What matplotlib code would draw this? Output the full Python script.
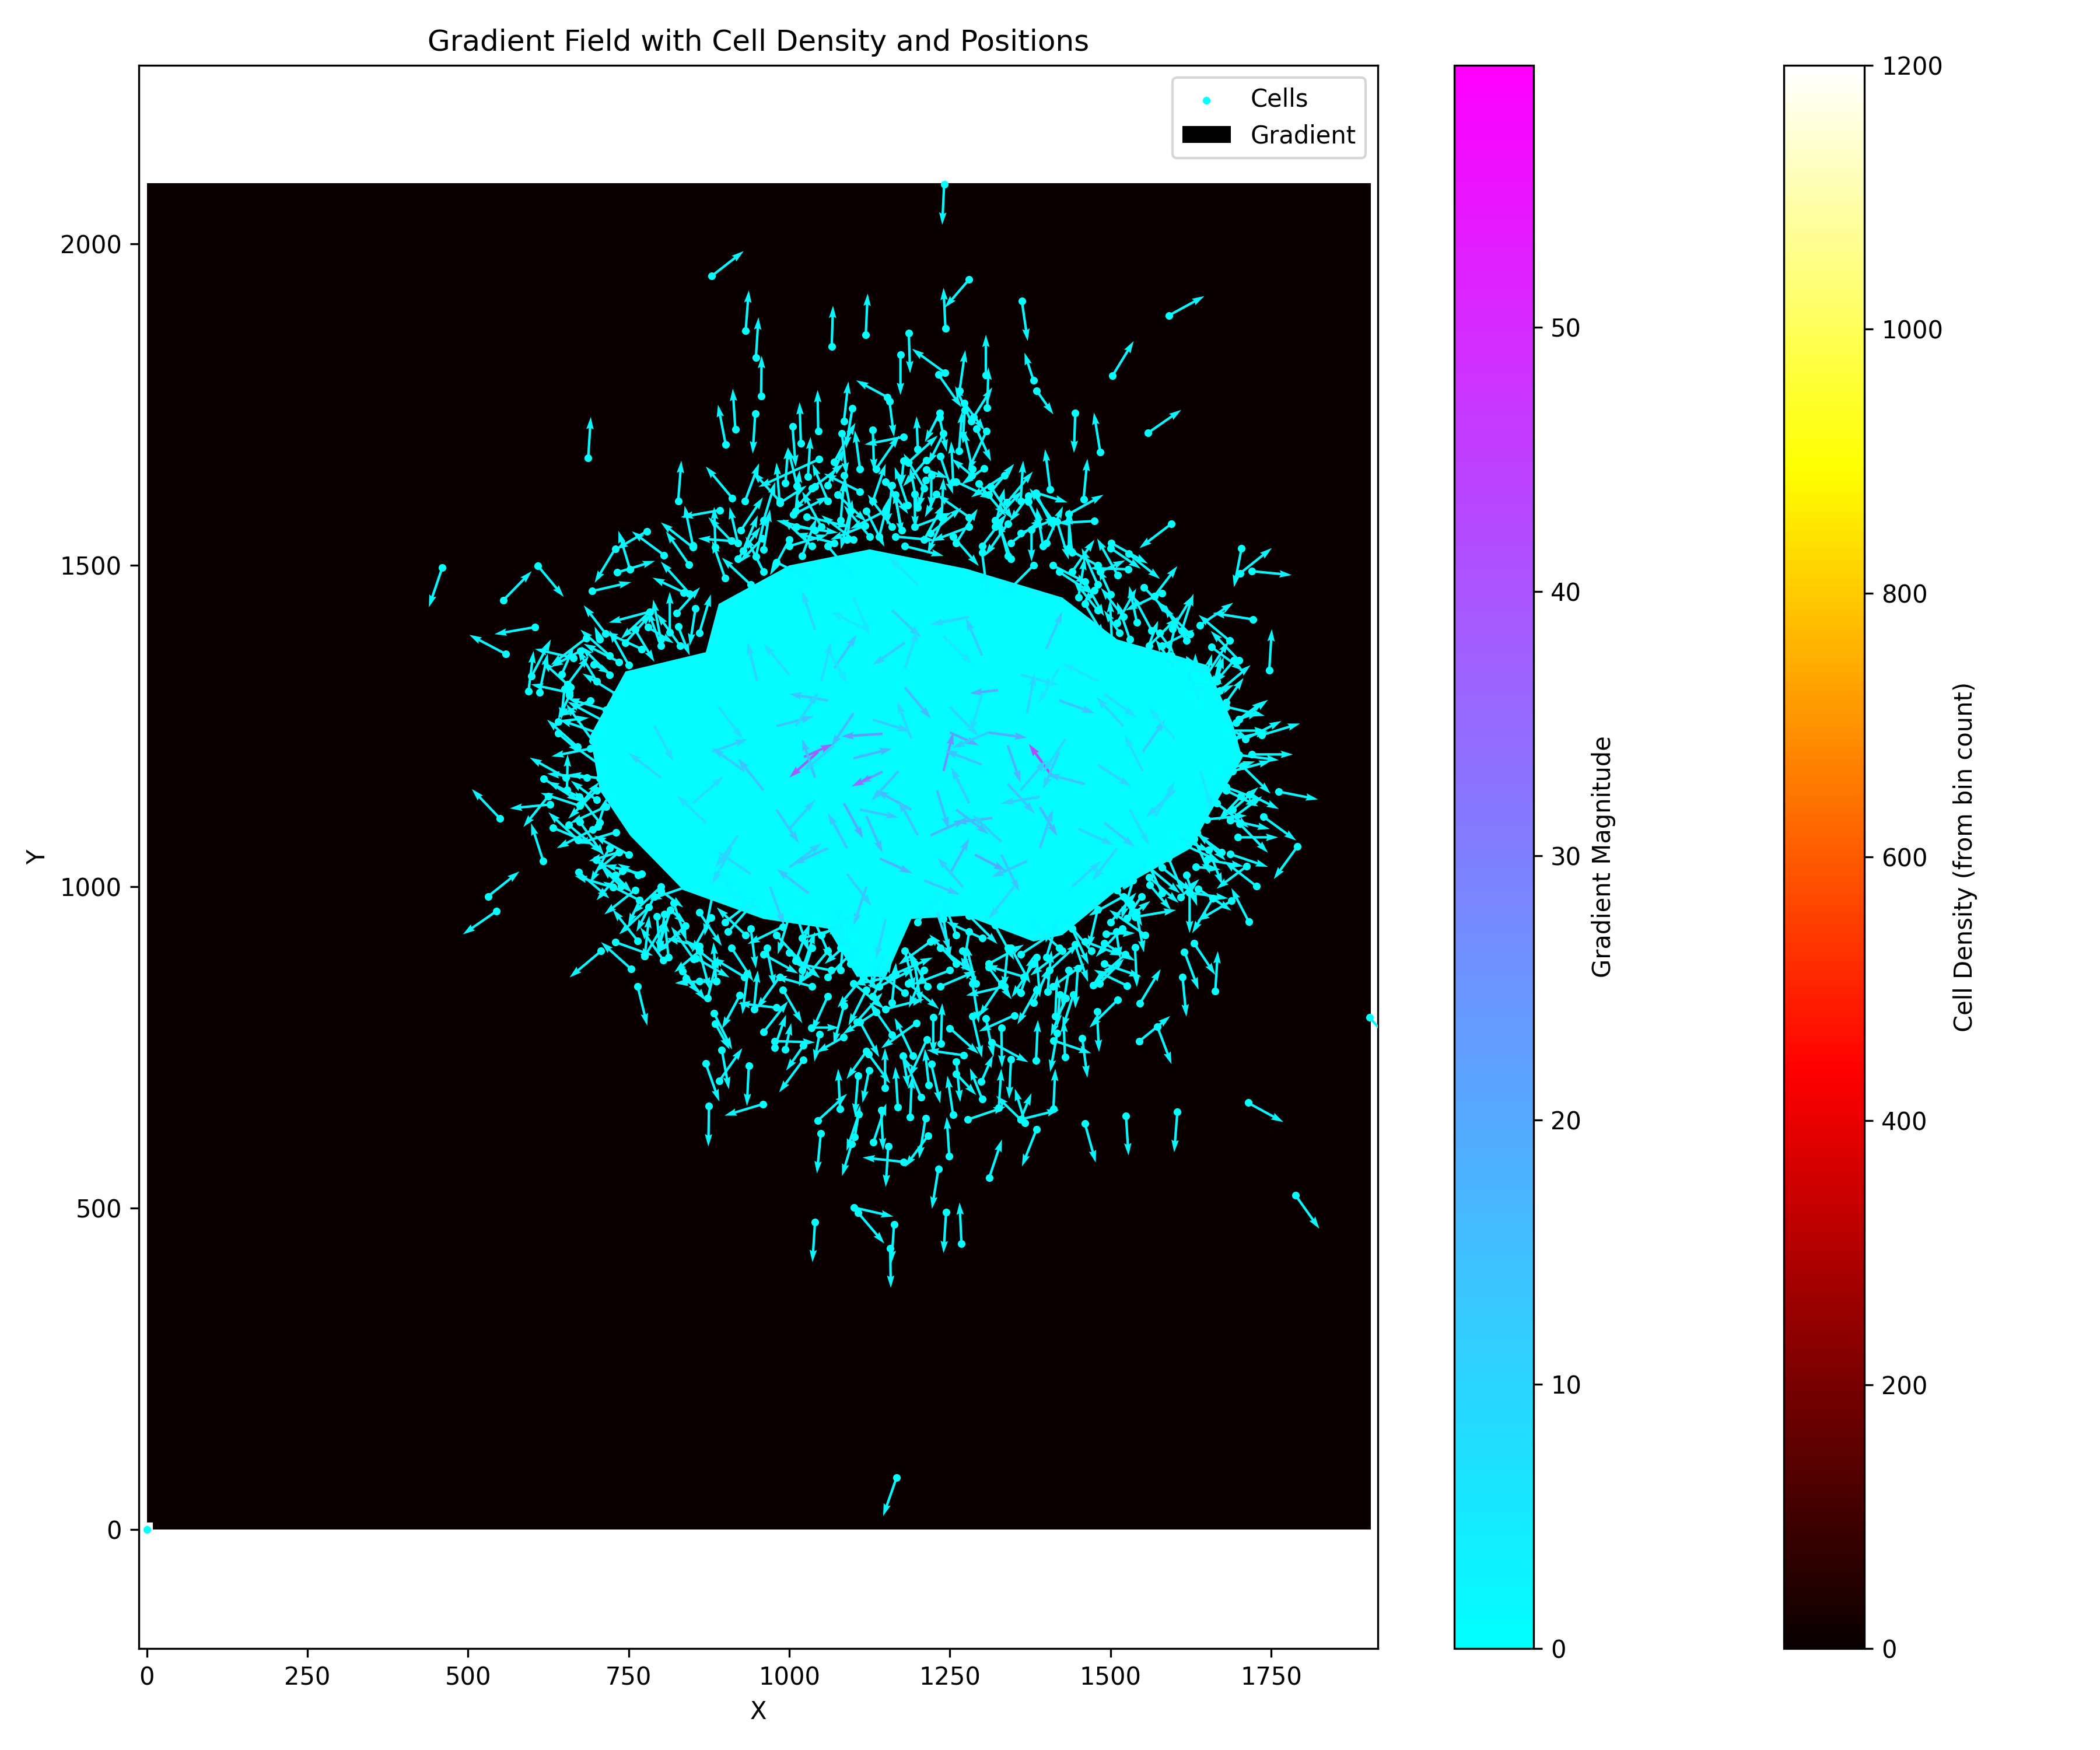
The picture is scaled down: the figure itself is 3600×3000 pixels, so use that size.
#!/usr/bin/env python3
"""Gradient field over a 2D cell density map.

Every arrow below was read off the picture by eye. The middle of the cloud is
too dense to read arrow by arrow, so it is an estimated outline (core_x/core_y)
with a hand-estimated fringe (rim_*) and inner arrows (inner_*) on top.
"""
import matplotlib
matplotlib.use("Agg")
import matplotlib.pyplot as plt
import numpy as np

# --- top of the cloud ---
top_x = [879, 932, 948, 1066, 1119, 1186, 1173, 956, 947, 916,
         901, 687, 1005, 1018, 1045, 1085, 1098, 1152, 1156, 1130,
         1178, 1082, 1070, 1046, 827, 911, 931, 892, 850, 885,
         850, 805, 778, 729, 752, 732, 844, 460, 609, 555,
         910, 910, 920, 925, 928, 948, 958, 985, 985, 994,
         1012, 1029, 1040, 1006, 1027, 1011, 1118, 1241, 1280, 1243,
         1362, 1591, 1503, 1380, 1385, 1445, 1484, 1558, 1406, 1458,
         1339, 1384, 1372, 1372, 1417, 1475, 1435, 1377, 1313, 1295,
         1284, 1255, 1303, 1264, 1308, 1306, 1265, 1232, 1242, 1272,
         1287, 1291, 1307, 1283, 1273, 1234, 1234, 1240, 1200, 1213,
         1213, 1178, 1184, 1195, 1229, 1212, 1237, 1221, 1050, 1075,
         1095, 1130, 1150, 1165, 1195, 1090, 1125, 1175, 1255, 1280,
         1320, 1345, 1070, 1210, 1150, 1110, 1060, 1165, 1340, 1395,
         1000, 960, 1035, 1440, 1480, 1410, 1345, 1300]
top_y = [1950, 1865, 1823, 1841, 1859, 1861, 1828, 1763, 1736, 1712,
         1688, 1667, 1716, 1690, 1709, 1724, 1744, 1762, 1755, 1711,
         1700, 1705, 1661, 1665, 1600, 1605, 1600, 1586, 1531, 1528,
         1528, 1516, 1553, 1526, 1494, 1489, 1501, 1497, 1499, 1446,
         1538, 1538, 1535, 1555, 1523, 1514, 1542, 1597, 1597, 1628,
         1624, 1638, 1623, 1579, 1576, 1560, 1562, 2093, 1945, 1869,
         1911, 1889, 1795, 1788, 1772, 1737, 1676, 1706, 1618, 1603,
         1598, 1613, 1608, 1599, 1568, 1569, 1527, 1556, 1623, 1627,
         1640, 1630, 1651, 1678, 1745, 1796, 1772, 1797, 1800, 1753,
         1731, 1713, 1709, 1724, 1742, 1737, 1730, 1705, 1681, 1649,
         1664, 1663, 1594, 1611, 1611, 1633, 1575, 1640, 1560, 1610,
         1585, 1600, 1585, 1610, 1560, 1540, 1545, 1555, 1545, 1575,
         1560, 1535, 1535, 1540, 1630, 1650, 1625, 1545, 1565, 1530,
         1530, 1490, 1530, 1490, 1470, 1500, 1510, 1530]
top_u = [50, 5, 4, 2, 3, 2, 0, 1, -4, -4,
         -12, 4, 5, -2, -1, 7, -10, -48, 7, 2,
         -61, 7, 33, -94, 5, -41, 22, -61, -13, -2,
         -50, -50, -48, -32, -18, 59, -36, -21, 40, 44,
         -52, -36, -13, 34, 23, 15, -35, -5, 42, 4,
         -14, 4, -34, 55, 67, 65, -54, -3, -38, -3,
         9, 55, 33, -14, 26, -2, -10, 52, -8, 6,
         40, 49, -29, 22, 18, -58, 1, 0, 35, 42,
         -31, -3, -35, 5, 2, 0, 9, 36, -51, 32,
         29, 23, -29, -25, -3, -23, 11, -24, -2, 34,
         -36, -4, -20, 1, -18, -11, 3, 0, -30, 45,
         -15, 20, -55, 10, 58, 8, -40, -12, 40, -50,
         15, 50, -60, 30, 35, -8, 25, 62, -35, -10,
         60, -28, -45, 35, -25, 55, -20, 38]
top_v = [39, 63, 63, 63, 64, -62, -63, 63, -62, 63,
         62, 64, -63, 64, 64, 62, -62, 26, -55, -64,
         -12, -64, 61, -43, 63, 49, 59, -11, 62, 63,
         39, 37, -28, -53, 60, 18, 52, -62, -48, 45,
         4, 37, 56, 51, 55, 66, -37, 63, 27, 56,
         59, 62, -39, 28, -16, -9, -22, -63, -44, 63,
         -62, 30, 54, 43, -37, -62, 62, 36, 63, 63,
         48, -15, -40, -43, -59, -3, 61, -50, -52, -50,
         26, 63, -25, 62, 63, 63, 63, -51, 37, -43,
         46, -51, -62, 55, -52, -45, -53, -48, 51, -13,
         -41, -40, 59, -53, -36, -45, 61, -52, 55, -42,
         -60, 58, -28, -62, 22, 62, 48, 60, -46, 35,
         60, 38, 15, 55, -50, 60, 56, -6, -50, 60,
         18, 55, 42, 50, 57, -28, 58, 50]

# --- left side ---
left_x = [693, 836, 845, 825, 814, 783, 783, 780, 827, 854,
          714, 705, 604, 559, 684, 675, 664, 599, 594, 611,
          658, 655, 646, 659, 650, 658, 696, 640, 654, 652,
          705, 618, 673, 674, 628, 625, 674, 550, 670, 709,
          694, 640, 617, 531, 544, 632, 657, 674, 694, 671,
          702, 672, 726, 729, 738, 767, 767, 781, 764, 729,
          707, 754, 764, 775, 775, 804, 812, 794, 806, 815,
          838, 851, 860, 860, 860, 839, 800, 815, 735, 735,
          699, 765, 700, 690, 700, 720, 745, 800, 760, 735]
left_y = [1460, 1458, 1456, 1426, 1396, 1428, 1428, 1404, 1405, 1433,
          1394, 1385, 1404, 1362, 1387, 1367, 1356, 1328, 1304, 1302,
          1302, 1315, 1331, 1311, 1308, 1298, 1346, 1239, 1151, 1170,
          1169, 1168, 1140, 1126, 1128, 1141, 1127, 1106, 1218, 1259,
          1227, 1257, 1040, 985, 962, 1092, 1096, 1101, 1089, 1073,
          1094, 1023, 999, 1018, 1001, 979, 979, 968, 916, 914,
          900, 872, 845, 892, 892, 886, 890, 954, 958, 964,
          939, 888, 908, 900, 853, 858, 994, 964, 1054, 1054,
          1042, 1018, 1135, 1290, 1320, 1360, 1380, 1375, 1400, 1350]
left_u = [61, -49, -45, 36, 0, -64, -45, 40, 18, -9,
          -34, -8, -63, -57, -55, -46, -60, 30, 8, 13,
          -60, 33, 18, -44, -5, -18, 26, 35, 1, -56,
          -48, 55, -50, -61, -63, -39, 30, -44, -47, -54,
          -41, 48, -19, 49, -52, 62, 52, 38, -56, -46,
          14, 48, -60, 26, -30, -57, -18, -46, -39, 59,
          -49, -47, 15, 7, 34, -36, -6, 5, -9, -21,
          -44, -35, -51, -39, -38, 21, 35, 24, -47, -36,
          56, -32, -40, -50, -30, -45, 40, -20, 30, -55]
left_v = [14, 23, 50, 40, 63, -17, -42, -25, -45, -58,
          44, 20, -11, 30, -42, -25, 14, 57, 63, 61,
          13, 44, 41, 40, -48, -38, -14, -30, 55, 31,
          6, -35, 24, 20, -6, -48, 36, 46, 42, 29,
          57, 6, 59, 39, -36, -26, -44, -53, -29, 43,
          45, -41, 18, -27, 29, 29, -39, -42, 49, -21,
          -41, 42, -61, 63, 57, 51, 58, -57, -60, -66,
          -42, 50, 12, -33, -3, -24, -26, -21, -14, -30,
          -51, 18, 30, -25, 50, 40, 45, 55, -50, 28]

# --- bottom of the cloud ---
bottom_x = [834, 855, 886, 886, 873, 923, 883, 895, 885, 891,
            870, 937, 959, 875, 1022, 980, 945, 960, 977, 994,
            1022, 1034, 1047, 977, 1084, 1107, 1079, 1044, 1049, 1108,
            1097, 1102, 1131, 1143, 1154, 1178, 1169, 1149, 1188, 1205,
            1212, 1216, 1217, 1101, 1107, 1163, 1157, 1040, 1124, 1120,
            1123, 1167, 1268, 1244, 1232, 1311, 1249, 1385, 1360, 1360,
            1360, 1367, 1278, 1255, 1411, 1460, 1524, 1604, 1714, 1788,
            1903, 1300, 1299, 1260, 1260, 1221, 1192, 1177, 1214, 1271,
            1236, 1224, 1198, 1285, 1306, 1330, 1345, 1326, 1315, 1384,
            1429, 1411, 1417, 1456, 1479, 1511, 878, 905, 932, 965,
            990, 1000, 1020, 1035, 1050, 1065, 1080, 1095, 1115, 1130,
            1150, 1165, 1180, 1195, 1215, 1235, 1250, 1270, 1290, 1310,
            1330, 1345, 1365, 1385, 1405, 1425, 1445, 1470, 1490, 1402,
            1430, 1442, 1414, 1421, 1449, 930, 990, 1060, 1105, 1160,
            1250, 1350, 1380, 1280, 1100, 1010, 1150]
bottom_y = [869, 889, 853, 853, 827, 831, 803, 746, 787, 698,
            725, 722, 662, 659, 731, 812, 810, 774, 750, 747,
            753, 781, 771, 760, 766, 706, 654, 636, 616, 646,
            600, 611, 603, 653, 596, 572, 657, 687, 642, 673,
            640, 613, 692, 501, 493, 475, 438, 478, 714, 744,
            740, 81, 445, 494, 561, 547, 581, 623, 638, 638,
            638, 633, 638, 645, 654, 632, 644, 650, 664, 520,
            797, 670, 697, 709, 728, 724, 737, 737, 762, 738,
            756, 797, 788, 799, 795, 781, 732, 656, 758, 730,
            735, 761, 772, 764, 806, 824, 952, 930, 925, 905,
            938, 898, 870, 905, 925, 870, 905, 880, 860, 830,
            900, 865, 835, 880, 845, 905, 870, 900, 850, 880,
            850, 905, 860, 890, 870, 900, 910, 900, 880, 837,
            827, 832, 799, 832, 873, 860, 840, 830, 790, 770,
            780, 800, 820, 930, 920, 960, 810]
bottom_u = [36, 52, -62, -4, 16, -28, 28, 11, 22, 36,
            21, -3, -60, -1, -38, -60, 6, 38, 18, 9,
            -27, 44, -8, 63, -42, -5, -3, 46, -6, -19,
            -15, 8, 20, 3, -4, -64, -4, 0, 3, -27,
            -10, -36, -6, 61, 41, -4, 1, -4, -10, -31,
            34, -21, -3, -4, -10, 20, -4, -23, -38, 17,
            60, -16, 59, -9, 3, 17, 4, -5, 55, 37,
            40, -19, 18, 31, 6, 14, -28, 8, -27, -57,
            2, 0, -55, 15, 12, 1, -3, 4, 57, 3,
            -2, 59, -11, 8, 3, -44, -30, 40, -45, 12,
            -55, 48, 20, -20, 55, -60, 0, 45, -40, 30,
            -25, 58, -50, 10, -30, 50, -58, 22, -15, 55,
            -35, 30, -60, 5, 45, -50, 20, -40, 58, 6,
            -23, -17, 3, -4, -4, -50, 30, -25, 40, -35,
            45, -55, 25, -10, -45, 20, 60]
bottom_v = [-46, -30, -2, 61, 65, -52, -56, -61, -40, 51,
            -59, -63, -18, -63, -51, 7, 60, 48, 51, 41,
            -39, 0, -43, -2, -24, -62, 63, 42, -62, -57,
            -50, 49, 60, -63, -63, 7, 63, 62, 63, 63,
            -63, -49, 56, -14, -48, -60, -62, -62, -50, -43,
            -46, -60, 64, -64, -62, 60, 61, -58, 37, 41,
            15, 53, 20, 61, 63, -61, -62, -63, -30, -52,
            -45, 48, 41, -33, -63, -61, 59, -49, -58, 8,
            63, -57, -39, -65, -60, -62, -62, 61, -31, 63,
            58, -20, -60, -61, -63, -43, -54, 46, 43, -60,
            -27, -40, 60, -60, 30, 12, 63, -42, -48, 55,
            -58, 25, 37, -62, 55, -38, -22, -58, 60, 30,
            -52, -55, 18, -62, 42, -38, -58, 48, -20, 64,
            -59, -53, 63, -50, -62, 30, -52, -55, 45, 50,
            -40, -25, 55, -60, -40, -60, 15]

# --- right side ---
right_x = [1545, 1573, 1546, 1612, 1615, 1630, 1663, 1538, 1526, 1483,
           1473, 1523, 1554, 1762, 1705, 1716, 1703, 1686, 1686, 1701,
           1698, 1738, 1791, 1686, 1653, 1673, 1727, 1712, 1650, 1633,
           1715, 1688, 1659, 1623, 1636, 1623, 1609, 1618, 1561, 1548,
           1538, 1526, 1532, 1490, 1509, 1518, 1493, 1704, 1702, 1720,
           1722, 1639, 1685, 1700, 1657, 1747, 1692, 1647, 1662, 1665,
           1735, 1720, 1680, 1700, 1700, 1673, 1683, 1692, 1665, 1595,
           1501, 1500, 1528, 1527, 1511, 1500, 1484, 1552, 1580, 1568,
           1624, 1611, 1596, 1618, 1541, 1564, 1556, 1576, 1502, 1514,
           1595, 1632, 1475, 1625, 1640, 1600, 1580, 1460, 1520, 1670,
           1680, 1690, 1600, 1630, 1560, 1580]
right_y = [760, 782, 819, 860, 899, 912, 838, 906, 846, 850,
           847, 895, 925, 1148, 1188, 1144, 1141, 1104, 1104, 1098,
           1077, 1109, 1063, 1051, 1057, 1054, 1001, 1032, 1042, 1031,
           946, 978, 982, 991, 997, 991, 984, 1018, 1003, 985,
           953, 951, 974, 912, 930, 935, 927, 1527, 1488, 1491,
           1416, 1407, 1383, 1352, 1373, 1337, 1352, 1321, 1320, 1320,
           1236, 1206, 1287, 1261, 1261, 1251, 1243, 1230, 1302, 1565,
           1535, 1527, 1518, 1494, 1485, 1455, 1490, 1466, 1457, 1452,
           1393, 1399, 1401, 1383, 1411, 1399, 1366, 1395, 1384, 1395,
           1360, 1330, 1461, 1300, 1285, 1340, 1375, 1440, 1420, 1180,
           1150, 1120, 1080, 1075, 1040, 1030]
right_u = [48, 22, 32, 6, 22, 33, 4, 3, -52, 38,
           34, -50, -56, 61, 44, 46, -35, 50, 62, 44,
           63, 51, -37, 59, 21, -38, -50, -47, 57, 38,
           -27, -53, -32, 0, 52, 60, 29, 17, 33, -22,
           64, 36, 17, 48, 6, -41, 45, -12, 49, 62,
           -63, 52, -48, -44, 50, 4, -30, 11, 10, 11,
           60, 64, 27, 39, 32, 42, 60, 53, 27, -50,
           57, 47, 49, -59, -32, -19, 39, 44, -57, 36,
           -53, 18, 32, -35, -12, -29, 18, 23, -3, -24,
           39, 0, -18, 45, -20, -30, 50, 30, -35, 55,
           50, 40, 55, 25, -40, 48]
right_v = [39, -58, 53, -62, -59, -49, 62, -62, 25, 38,
           33, -45, 39, -12, -43, -23, -38, 37, -14, -45,
           0, -37, -51, -20, -54, 28, 39, -35, -10, -4,
           52, -31, -54, -63, -34, -9, 28, -48, -39, -32,
           11, 27, -35, -27, -42, -44, 1, -61, 39, -6,
           10, 35, 40, 46, -37, 64, -35, 41, 39, 38,
           18, 0, 38, 28, 11, -21, 0, 12, 12, -38,
           -32, -32, -39, 2, 57, 41, 18, -46, -27, 47,
           52, 57, 52, 54, 57, 54, 48, -32, 62, 35,
           -12, 33, -20, 30, 55, 45, 25, -50, 45, 15,
           -25, 35, -25, -55, -45, -38]

# --- spiky fringe hugging the dense core, positions and directions estimated ---
rim_x = [900, 920, 940, 960, 980, 1000, 1020, 1040, 1060, 1080,
         1100, 1120, 1140, 1160, 1180, 1200, 1220, 1240, 1260, 1280,
         1300, 1320, 1340, 1360, 1380, 1400, 1420, 1440, 1460, 1480,
         960, 985, 1010, 1035, 1060, 1085, 1110, 1135, 1160, 1185,
         1210, 1235, 1260, 1285, 1310, 1335, 1360, 1385, 1410, 1435,
         800, 820, 840, 860, 880, 900, 920, 940, 960, 980,
         1000, 1020, 1040, 1060, 1080, 1100, 1120, 1140, 1160, 1180,
         1200, 1220, 1240, 1260, 1280, 1300, 1320, 1340, 1360, 1380,
         1400, 1420, 1440, 1460, 1480, 1500, 1520, 1540, 1560, 1580,
         860, 885, 910, 935, 960, 985, 1010, 1035, 1060, 1085,
         1110, 1135, 1160, 1185, 1210, 1235, 1260, 1285, 1310, 1335,
         1360, 1385, 1410, 1435, 700, 690, 705, 685, 700, 715,
         705, 730, 720, 750, 740, 770, 760, 790, 715, 730,
         720, 750, 770, 800, 830, 860, 1690, 1700, 1710, 1695,
         1680, 1670, 1650, 1620, 1590, 1560, 1530, 1510, 1480, 1450,
         1680, 1665, 1650, 1635, 1615, 1590, 1560, 1535, 1510, 1480]
rim_y = [1480, 1510, 1470, 1525, 1505, 1540, 1515, 1555, 1530, 1570,
         1540, 1585, 1545, 1560, 1530, 1590, 1550, 1575, 1535, 1560,
         1520, 1570, 1515, 1550, 1500, 1535, 1490, 1520, 1475, 1500,
         1570, 1600, 1585, 1620, 1600, 1640, 1615, 1650, 1625, 1660,
         1620, 1670, 1630, 1650, 1610, 1640, 1600, 1610, 1570, 1580,
         1000, 975, 1000, 960, 985, 945, 975, 935, 960, 925,
         955, 920, 945, 900, 870, 850, 840, 845, 860, 900,
         945, 915, 950, 925, 955, 920, 940, 905, 895, 880,
         890, 905, 935, 915, 965, 945, 985, 960, 1015, 990,
         900, 880, 905, 865, 895, 860, 885, 845, 860, 815,
         790, 805, 820, 850, 870, 845, 880, 850, 875, 845,
         835, 840, 845, 870, 1240, 1215, 1190, 1170, 1150, 1125,
         1100, 1085, 1060, 1050, 1025, 1020, 995, 985, 1275, 1300,
         1330, 1345, 1370, 1385, 1375, 1395, 1180, 1205, 1230, 1255,
         1280, 1305, 1330, 1345, 1360, 1375, 1385, 1410, 1430, 1450,
         1155, 1130, 1105, 1085, 1065, 1045, 1030, 1010, 995, 985]
rim_u = [-20, 35, -45, 10, 55, -30, 22, -60, 40, 5,
         -50, 28, 15, -38, 60, -12, 48, -25, 33, -58,
         8, 42, -16, 58, -44, 26, 52, -6, 30, -55,
         18, -42, 6, 50, -24, 12, -56, 36, -8, 46,
         -32, 20, 56, -14, 40, -52, 4, 28, -36, 54,
         -45, 20, -58, 35, -12, 50, -30, 8, -52, 42,
         -18, 60, 25, -40, 5, 48, -28, 55, -60, 15,
         38, -50, 10, -22, 44, -56, 30, -6, 52, -34,
         18, -46, 26, 58, -14, 40, -54, 12, 46, -26,
         16, -48, 34, -8, 54, -36, 22, -58, 44, -16,
         30, -52, 6, 48, -24, 56, -42, 10, 36, -60,
         20, -30, 50, -10, -58, -60, -50, -62, -44, -56,
         -38, -60, -30, -54, -40, -58, -48, -28, -60, -52,
         -44, -30, -56, -12, -36, 18, 60, 62, 56, 50,
         60, 48, 34, 54, 14, 44, -20, 30, -38, 10,
         58, 50, 62, 44, 56, 24, 48, -18, 36, 54]
rim_v = [58, 50, 42, 62, -28, -55, 58, 15, -48, 63,
         38, -56, 60, 50, -15, 62, 40, -57, 53, -22,
         -62, 46, 60, 24, -44, 57, -34, 62, -54, 30,
         60, 46, 63, 38, 58, -61, 28, 52, -62, 42,
         54, -59, -26, 61, 48, -34, 63, -56, 50, 30,
         -42, -59, -20, -52, -61, 38, 55, -62, 34, -46,
         -60, 16, -57, -48, 62, -40, -56, 28, -12, -60,
         50, -36, -62, 58, -44, 26, -54, -63, 34, -52,
         60, 42, -56, -22, -60, 46, -30, -62, -40, 56,
         -60, 38, -52, -63, -30, -50, 58, 16, 44, -60,
         -55, -34, 62, -40, -58, 24, 46, -62, -50, -14,
         58, -54, 36, -62, 20, -12, 36, 6, -44, -26,
         48, -18, -54, 30, -46, 14, -38, -55, 18, 32,
         44, 54, 26, 62, 50, 60, 16, -8, 28, 36,
         -14, 40, 52, -30, 61, 44, 58, 54, 48, 62,
         -22, -38, 6, -44, -26, -57, -40, -60, -50, 24]

# --- arrows still visible inside the dense core ---
inner_x = [1145, 1325, 1316, 1289, 1141, 1390, 1145, 1023, 1127, 1045,
           1409, 1250, 1190, 1085, 960, 880, 800, 1340, 1460, 1550,
           1600, 1250, 1120, 1000, 920, 1060, 1180, 1300, 1420, 1520,
           1490, 1370, 1240, 1100, 980, 870, 790, 1040, 1160, 1280,
           1400, 1350, 1220, 1090, 1230, 1440, 1180, 1070, 950, 1310,
           1000, 1060, 1120, 1200, 1260, 1330, 1390, 1450, 1510, 1570,
           930, 980, 1040, 1100, 1170, 1230, 1300, 1360, 1420, 1480,
           850, 910, 970, 1030, 1090, 1150, 1210, 1270, 1330, 1390,
           1010, 1070, 1130, 1190, 1250, 1310, 1370, 1430, 1490, 1550,
           1000, 1060, 1120, 1180, 1240, 1300, 1360, 1420, 1100, 1200,
           890, 940, 1050, 1110, 1280, 1340, 1480, 1530, 1600, 1640]
inner_y = [1238, 1306, 1107, 1050, 1044, 1124, 1179, 1202, 1171, 1210,
           1172, 1240, 1120, 1130, 1150, 1210, 1170, 1220, 1160, 1210,
           1150, 1020, 1000, 1030, 1080, 1290, 1310, 1360, 1290, 1250,
           1100, 1040, 1180, 1270, 1250, 1100, 1250, 1400, 1430, 1420,
           1370, 1000, 1080, 1060, 960, 1000, 1380, 1340, 1320, 1240,
           1090, 1060, 1110, 1080, 1120, 1070, 1060, 1090, 1060, 1110,
           1180, 1120, 1170, 1200, 1180, 1150, 1190, 1150, 1210, 1190,
           1130, 1060, 1000, 990, 1020, 950, 1010, 1000, 1050, 1140,
           1250, 1220, 1260, 1230, 1280, 1240, 1270, 1230, 1300, 1180,
           1330, 1370, 1400, 1340, 1390, 1300, 1330, 1340, 1450, 1470,
           1280, 1020, 1320, 1120, 1130, 1160, 1320, 1120, 1230, 1180]
inner_u = [-64, -44, -59, 48, 50, 27, -37, 45, -30, -45,
           -36, 45, -55, 30, -40, 55, -50, 20, -58, 35,
           -45, 30, -20, 50, -35, -60, 40, -25, 55, -42,
           48, -55, 15, -35, 58, -45, 30, -20, 45, -60,
           25, -40, 55, -30, 20, 45, -50, 35, -15, 60,
           40, -55, 25, -30, 50, -45, 20, 55, -38, 30,
           -50, 35, -20, 60, -42, 18, -58, 40, -25, 52,
           48, -30, 22, -50, 38, -15, 55, -40, 28, -60,
           35, -48, 58, -22, 44, -56, 12, -35, 50, -28,
           -40, 30, -55, 20, 45, -18, 58, -32, 25, -45,
           38, -52, 15, 60, -28, 42, -55, 30, -40, 18]
inner_v = [-4, -5, -7, -25, -23, -45, -18, 20, -15, -40,
           50, -20, 30, -55, 50, 20, 38, -58, 15, 50,
           -42, 55, -60, 38, -50, 10, -48, 58, -20, 45,
           -38, -25, 60, -52, 15, 42, -55, 60, -42, -12,
           58, -50, 25, 55, -60, 40, -35, 52, 60, -8,
           45, -25, -57, 55, -38, 42, 60, -25, -50, 54,
           36, -52, 60, 15, -46, -60, 22, 47, -58, -34,
           42, -55, -60, 38, -50, -62, -22, 46, -57, -10,
           52, -40, -18, 58, -45, -24, 62, -52, -36, 56,
           48, -54, 28, 60, -44, -60, -16, -54, -58, 42,
           -50, 35, 61, -12, 56, -46, 28, -55, 48, -60]
inner_mag = [24, 20, 18, 20, 18, 18, 22, 36, 34, 38,
             42, 22, 16, 20, 14, 12, 10, 18, 14, 12,
             10, 16, 14, 12, 10, 14, 16, 12, 14, 10,
             12, 14, 26, 16, 14, 8, 8, 10, 12, 10,
             12, 10, 18, 14, 8, 10, 12, 14, 10, 20,
             12, 14, 16, 14, 16, 12, 14, 10, 10, 8,
             12, 14, 16, 18, 14, 16, 14, 12, 12, 10,
             8, 10, 12, 14, 12, 10, 14, 12, 14, 12,
             10, 10, 12, 10, 10, 12, 10, 10, 8, 8,
             8, 6, 6, 8, 6, 8, 8, 6, 6, 6,
             8, 10, 8, 14, 12, 14, 6, 8, 6, 6]

outer_mag = 2.0  # the rim arrows all read as this near-cyan

# outline of the part too dense to read, estimated
core_x = [690, 745, 870, 890, 1000, 1125, 1275, 1425, 1510, 1650, 1690, 1705, 1655,
          1625, 1510, 1425, 1380, 1275, 1190, 1150, 1105, 1060, 960, 835, 752, 705]
core_y = [1235, 1335, 1365, 1440, 1500, 1525, 1495, 1450, 1385, 1345, 1255, 1200, 1115,
          1060, 995, 925, 915, 955, 950, 860, 860, 935, 950, 995, 1080, 1150]

# histogram: only the bin at the origin is hot, the rest stays near zero
density = np.zeros((200, 200))
density[0, 0] = 1200

x = np.array(top_x + left_x + bottom_x + right_x + rim_x, dtype=float)
y = np.array(top_y + left_y + bottom_y + right_y + rim_y, dtype=float)
u = np.array(top_u + left_u + bottom_u + right_u + rim_u, dtype=float)
v = np.array(top_v + left_v + bottom_v + right_v + rim_v, dtype=float)
mag = np.full(x.size, outer_mag)

all_x = np.concatenate([inner_x, x])
all_y = np.concatenate([inner_y, y])
all_u = np.concatenate([inner_u, u])
all_v = np.concatenate([inner_v, v])
all_mag = np.concatenate([inner_mag, mag])

fig = plt.figure(figsize=(12, 10), dpi=300)
ax = fig.add_axes([238 / 3600, 174 / 3000, 2124 / 3600, 2714 / 3000])
im = ax.imshow(density, origin="lower", extent=[0, 1904, 0, 2094], cmap="hot",
               vmin=0, vmax=1200, aspect="auto")
ax.fill(core_x, core_y, color="#04fbff", lw=0, zorder=2)
q = ax.quiver(all_x, all_y, all_u, all_v, all_mag, cmap="cool", angles="xy", scale_units="xy",
              scale=1, width=0.002, clim=(0, 59.9), zorder=3, label="Gradient")
ax.scatter(np.append(x, 0), np.append(y, 0), s=10, color="cyan", lw=0, zorder=4, label="Cells")
ax.set_xlim(-12.4, 1916)
ax.set_ylim(-185, 2278)
ax.set_xlabel("X")
ax.set_ylabel("Y")
ax.set_title("Gradient Field with Cell Density and Positions")
h, l = ax.get_legend_handles_labels()
ax.legend(h[::-1], l[::-1], loc="upper right")

cax1 = fig.add_axes([2493 / 3600, 174 / 3000, 136 / 3600, 2714 / 3000])
fig.colorbar(q, cax=cax1, label="Gradient Magnitude")
cax2 = fig.add_axes([3058 / 3600, 174 / 3000, 138 / 3600, 2714 / 3000])
fig.colorbar(im, cax=cax2, label="Cell Density (from bin count)")

fig.savefig("out.png", dpi=300)
